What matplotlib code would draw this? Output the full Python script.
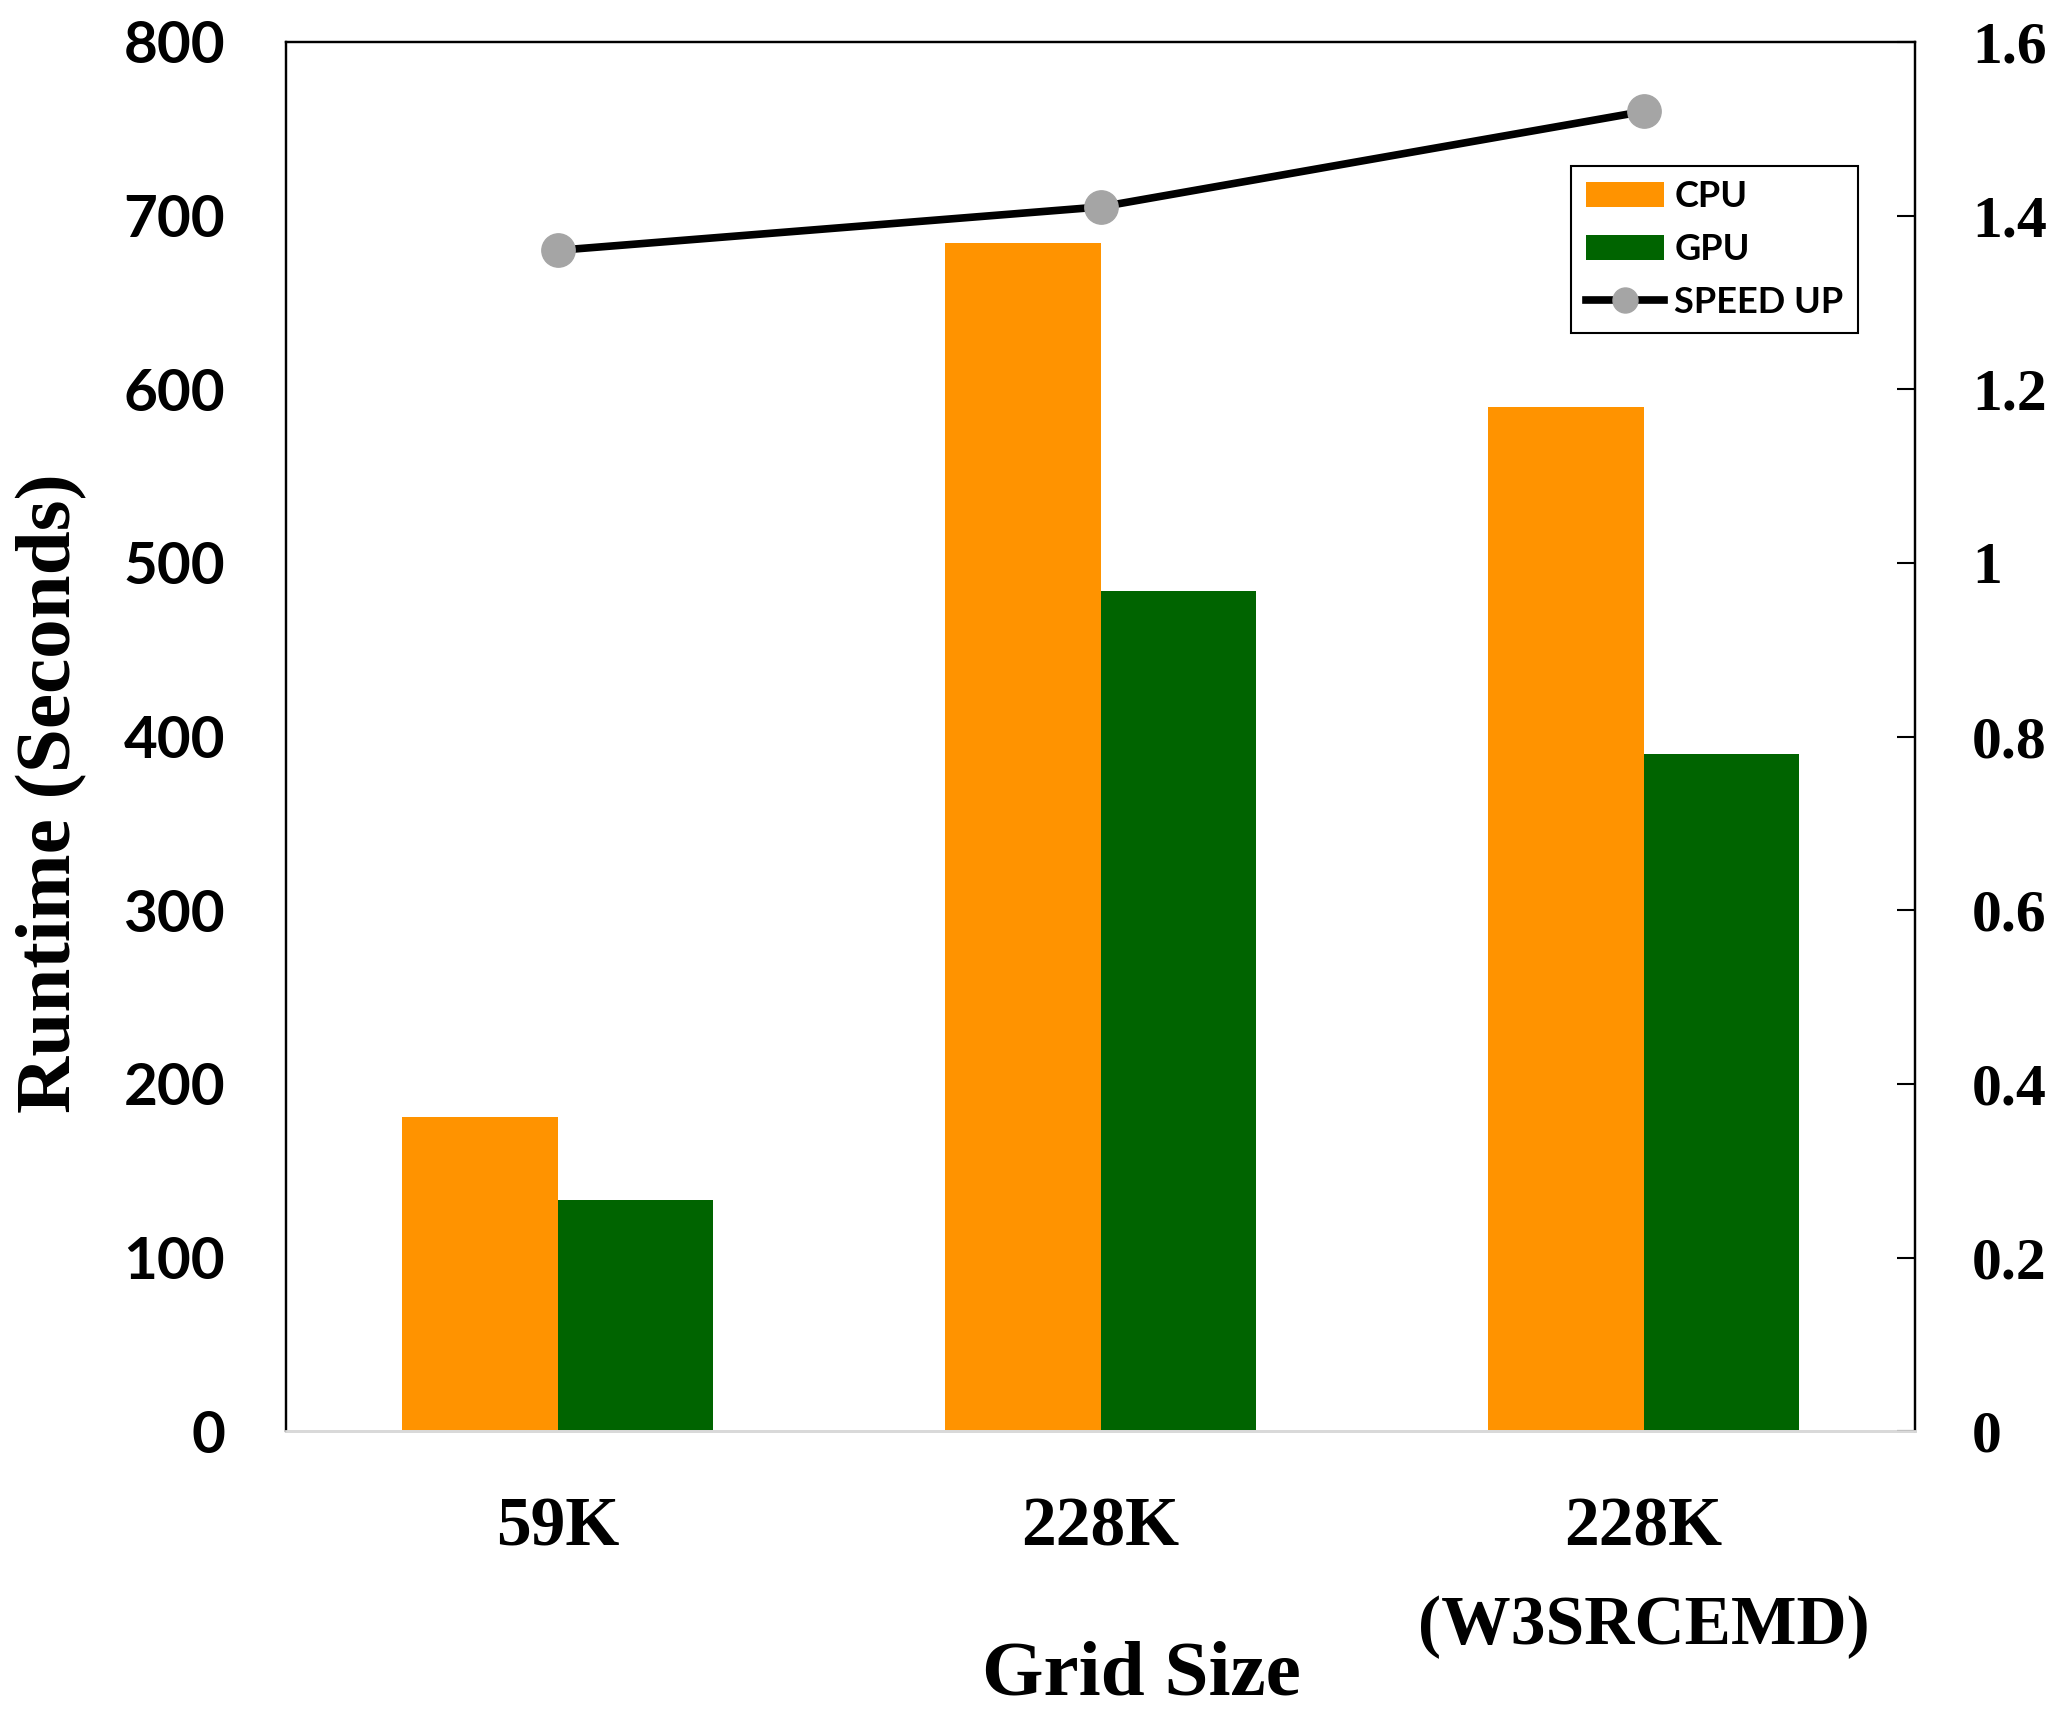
import matplotlib
matplotlib.use("Agg")
import matplotlib.pyplot as plt
import numpy as np
from matplotlib.patches import Patch
from matplotlib.lines import Line2D

# data
grid_sizes = ["59K", "228K", "228K\n(W3SRCEMD)"]
cpu_runtime = [181, 684, 590]
gpu_runtime = [133, 484, 390]
speed_up = [1.36, 1.41, 1.52]

runtime_ticks = [0, 100, 200, 300, 400, 500, 600, 700, 800]
speedup_ticks = [0, 0.2, 0.4, 0.6, 0.8, 1, 1.2, 1.4, 1.6]
speedup_labels = ["0", "0.2", "0.4", "0.6", "0.8", "1", "1.2", "1.4", "1.6"]

cpu_color = "#ff9300"
gpu_color = "#006400"
serif = "Liberation Serif"
sans = "Lato"

fig = plt.figure(figsize=(20.67, 17.12), dpi=100)
ax = fig.add_axes([0.1384, 0.164, 0.7881, 0.8115])

x = np.arange(len(grid_sizes))
w = 0.286
ax.bar(x - w / 2, cpu_runtime, w, color=cpu_color, linewidth=0, zorder=2)
ax.bar(x + w / 2, gpu_runtime, w, color=gpu_color, linewidth=0, zorder=2)

ax.set_xlim(-0.5, 2.5)
ax.set_ylim(0, 800)
ax.set_yticks(runtime_ticks)
ax.set_yticklabels([str(t) for t in runtime_ticks], fontfamily=sans,
                   fontweight="bold", fontsize=42)
ax.tick_params(axis="y", length=0, pad=44)
ax.set_xticks(x)
ax.set_xticklabels(grid_sizes, fontfamily=serif, fontweight="bold",
                   fontsize=50, linespacing=1.7)
ax.tick_params(axis="x", length=0, pad=47)

# secondary axis for the speed up
ax2 = ax.twinx()
ax2.plot(x, speed_up, color="black", linewidth=5.5, marker="o", markersize=24,
         markerfacecolor="#a5a5a5", markeredgecolor="#a5a5a5", zorder=3)
ax2.set_ylim(0, 1.6)
ax2.set_yticks(speedup_ticks)
ax2.set_yticklabels(speedup_labels, fontfamily=serif, fontweight="bold",
                    fontsize=43)
ax2.tick_params(axis="y", direction="in", length=13, width=1.5, pad=41)

for a in (ax, ax2):
    for side in ("left", "right", "top"):
        a.spines[side].set_color("black")
        a.spines[side].set_linewidth(1.6)
    a.spines["bottom"].set_color("#d9d9d9")
    a.spines["bottom"].set_linewidth(2)

fig.text(0.0252, 0.5368, "Runtime (Seconds)", rotation=90, ha="center",
         va="center", fontfamily=serif, fontweight="bold", fontsize=57)
fig.text(0.552, 0.0105, "Grid Size", ha="center", va="baseline",
         fontfamily=serif, fontweight="bold", fontsize=57)

handles = [
    Patch(facecolor=cpu_color, label="CPU"),
    Patch(facecolor=gpu_color, label="GPU"),
    Line2D([0], [0], color="black", linewidth=5.5, marker="o", markersize=18,
           markerfacecolor="#a5a5a5", markeredgecolor="#a5a5a5",
           label="SPEED UP"),
]
leg = ax2.legend(handles=handles, loc="upper right",
                 bbox_to_anchor=(0.965, 0.911), borderaxespad=0,
                 prop={"family": sans, "weight": "bold", "size": 26},
                 handlelength=2.15, handletextpad=0.3, labelspacing=0.55,
                 fancybox=False, framealpha=1, edgecolor="black")
leg.get_frame().set_linewidth(1.5)

fig.savefig("out.png", dpi=100)
